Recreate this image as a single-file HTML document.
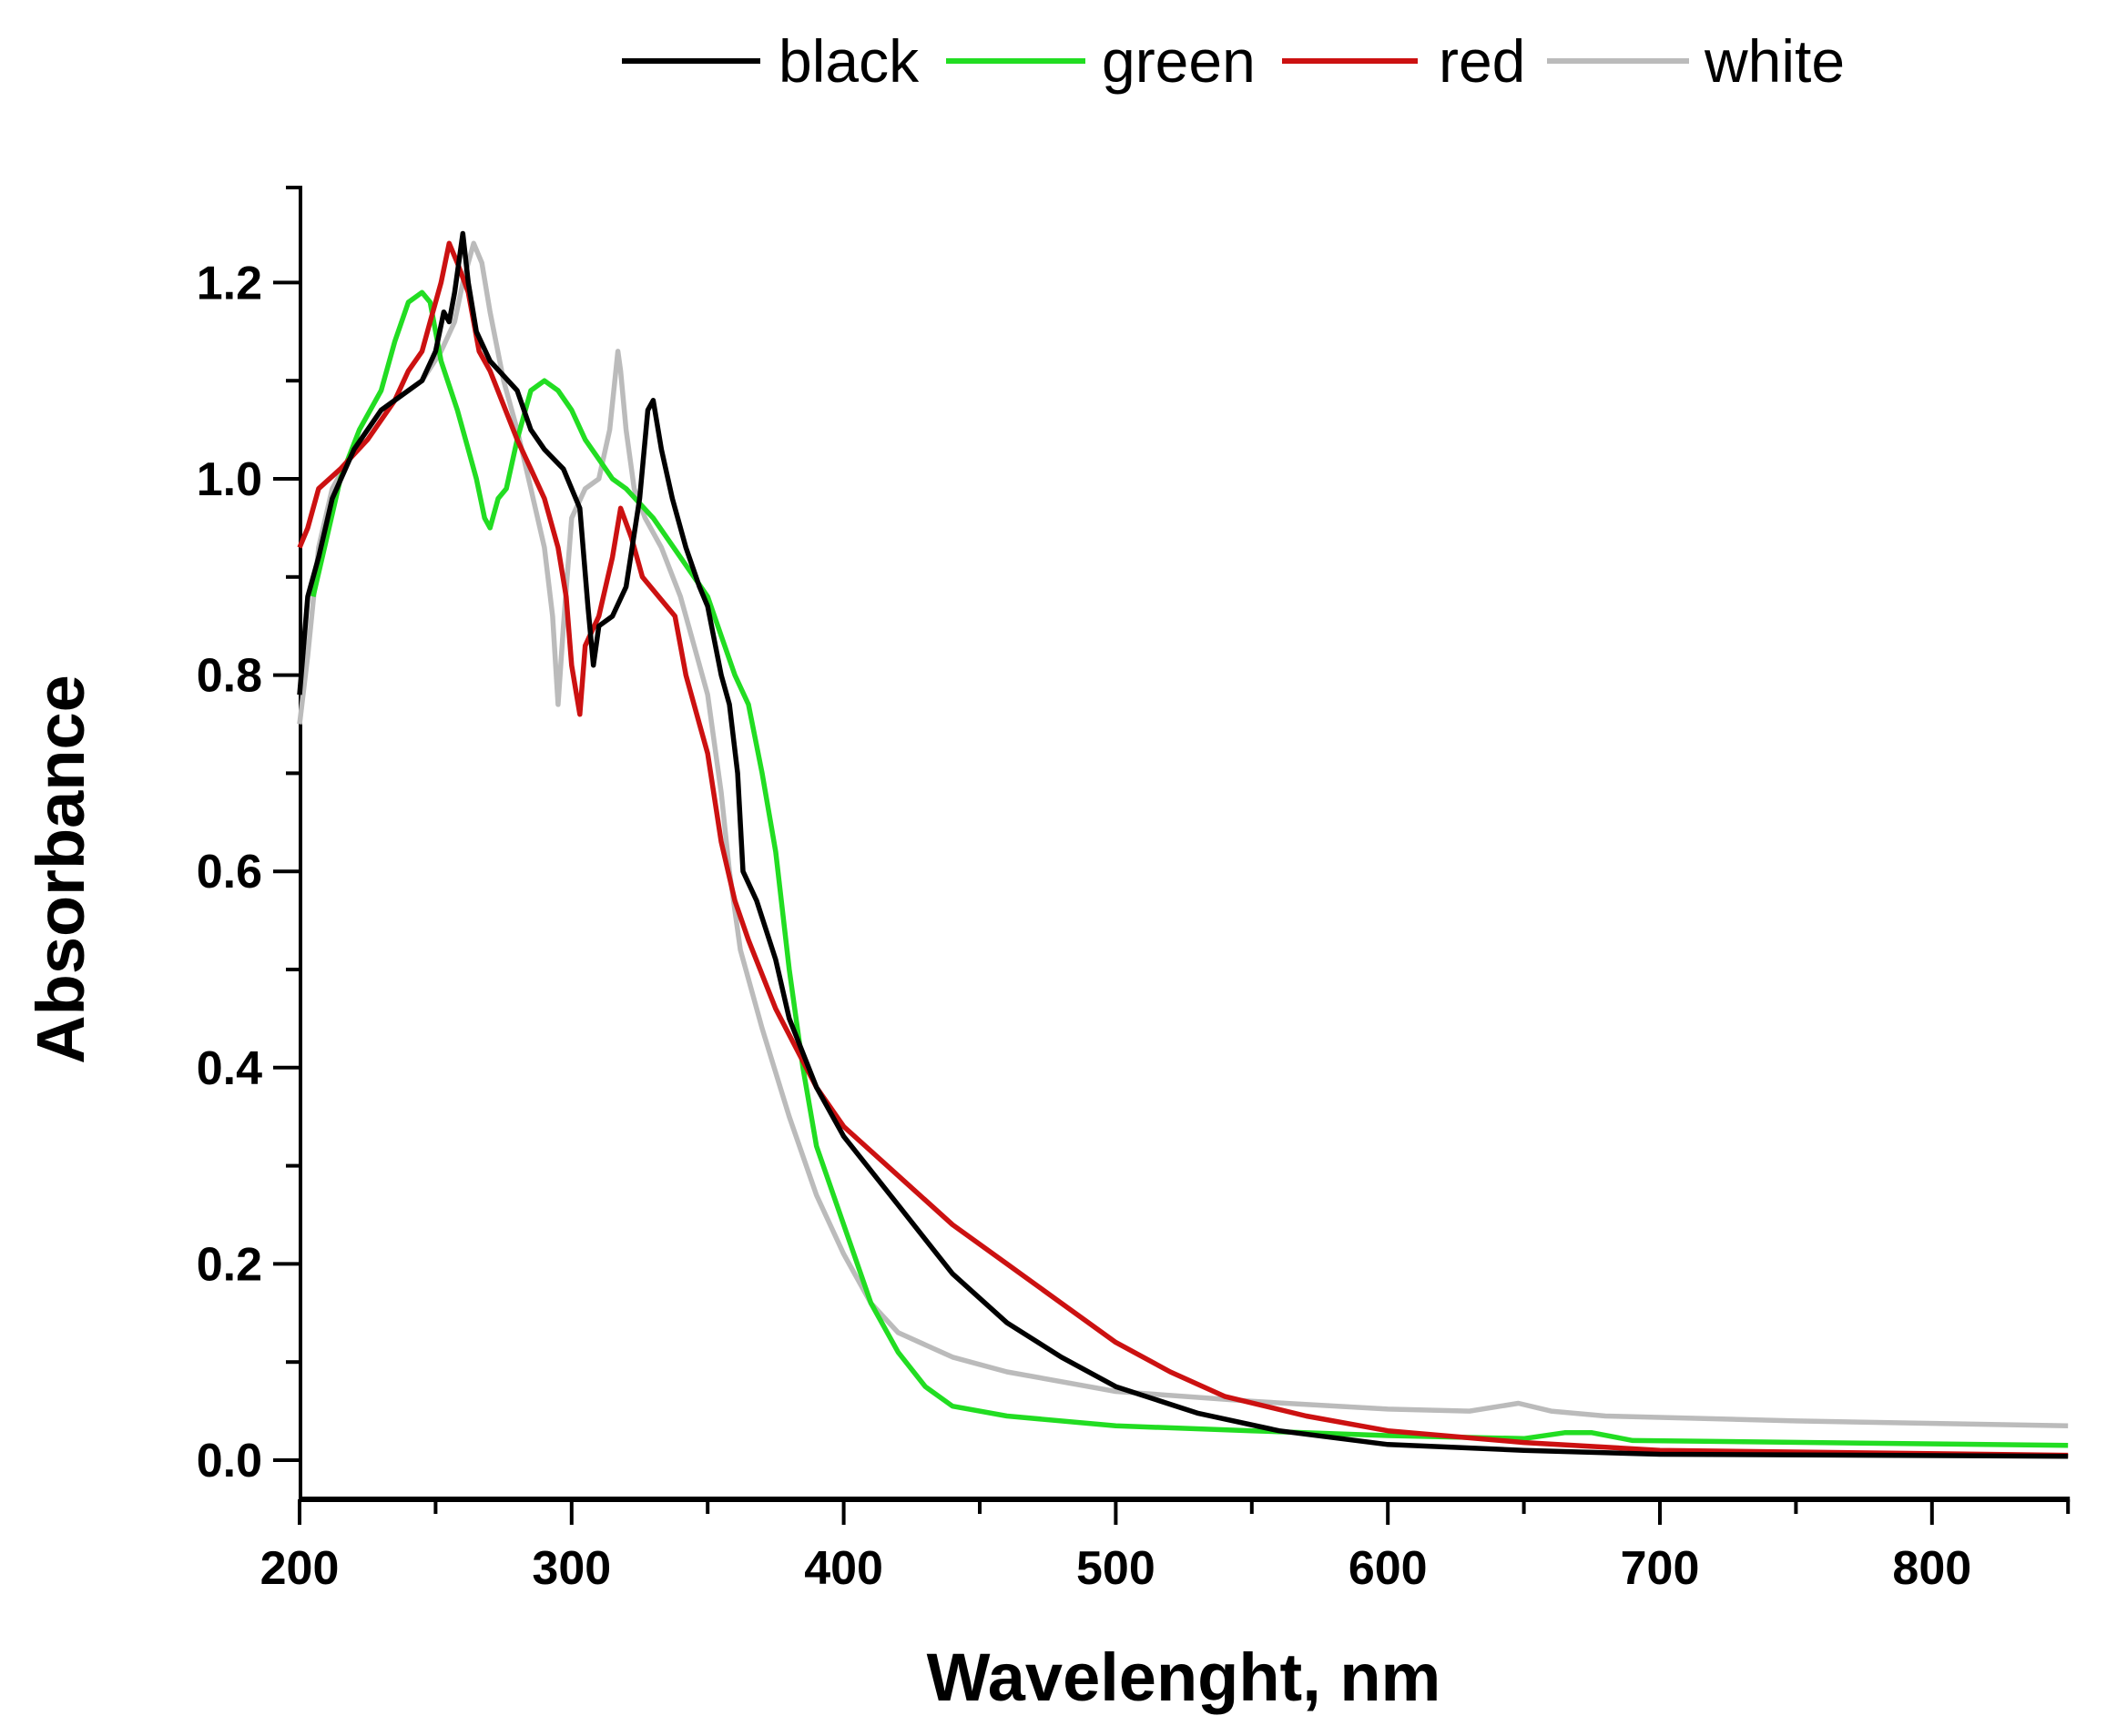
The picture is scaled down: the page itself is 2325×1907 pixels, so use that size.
<!DOCTYPE html>
<html><head><meta charset="utf-8"><style>
html,body{margin:0;padding:0;background:#fff;}
svg{display:block;font-family:"Liberation Sans",Arial,sans-serif;}
</style></head><body>
<svg id="s" width="2325" height="1907" viewBox="0 0 2325 1907" xmlns="http://www.w3.org/2000/svg">
<rect width="2325" height="1907" fill="#fff"/>
<g stroke-width="6" fill="none">
<line x1="683" y1="67" x2="835" y2="67" stroke="#000"/>
<line x1="1039" y1="67" x2="1192" y2="67" stroke="#22dd22"/>
<line x1="1408" y1="67" x2="1557" y2="67" stroke="#cc1111"/>
<line x1="1699" y1="67" x2="1855" y2="67" stroke="#bbbbbb"/>
</g>
<g font-size="66" fill="#000">
<text x="855" y="90">black</text>
<text x="1210" y="90">green</text>
<text x="1580" y="90">red</text>
<text x="1872" y="90">white</text>
</g>
<g id="ax" stroke="#000" stroke-width="4" fill="none"></g>
<g id="lab" font-size="52" font-weight="bold" fill="#000"></g>
<text x="1300" y="1868" font-size="74" font-weight="bold" text-anchor="middle">Wavelenght, nm</text>
<text transform="translate(92,955) rotate(-90)" font-size="74" font-weight="bold" text-anchor="middle">Absorbance</text>
<g id="ser" fill="none" stroke-width="5.5" stroke-linejoin="round"></g>
</svg>
<script>
var NS="http://www.w3.org/2000/svg";
function X(w){return 329+(w-200)*2.988;}
function Y(a){return 1604-a*1078;}
function el(p,t,at,txt){var e=document.createElementNS(NS,t);for(var k in at)e.setAttribute(k,at[k]);if(txt)e.textContent=txt;p.appendChild(e);return e;}
var ax=document.getElementById('ax'),lab=document.getElementById('lab');
el(ax,'line',{x1:330,y1:204,x2:330,y2:1650});
el(ax,'line',{x1:328,y1:1647,x2:X(850)+2,y2:1647,'stroke-width':6});
for(var w=200;w<=850;w+=50){var maj=(w%100==0);el(ax,'line',{x1:X(w),y1:1647,x2:X(w),y2:1647+(maj?28:16)});
 if(maj)el(lab,'text',{x:X(w),y:1740,'text-anchor':'middle'},String(w));}
for(var i=-1;i<=13;i++){var a=i/10;var y=Y(a);if(y<204||y>1650)continue;var maj=(i%2==0);
 el(ax,'line',{x1:330-(maj?30:16),y1:y,x2:330,y2:y});
 if(maj&&i>=0)el(lab,'text',{x:288,y:y+18,'text-anchor':'end'},a.toFixed(1));}
el(ax,'line',{x1:314,y1:206,x2:330,y2:206});
var S={
"#bbbbbb":[[200,0.75],[203,0.82],[207,0.93],[212,0.99],[220,1.03],[230,1.07],[245,1.10],[252,1.13],[257,1.16],[260,1.20],[264,1.24],[267,1.22],[270,1.17],[275,1.10],[280,1.05],[285,0.99],[290,0.93],[293,0.86],[295,0.77],[297,0.85],[300,0.96],[305,0.99],[310,1.00],[314,1.05],[317,1.13],[318,1.11],[320,1.05],[323,0.99],[327,0.96],[333,0.93],[340,0.88],[345,0.83],[350,0.78],[355,0.68],[358,0.60],[362,0.52],[370,0.44],[380,0.35],[390,0.27],[400,0.21],[410,0.16],[420,0.13],[440,0.105],[460,0.09],[500,0.07],[550,0.06],[600,0.052],[630,0.05],[648,0.058],[660,0.05],[680,0.045],[750,0.04],[850,0.035]],
"#22dd22":[[205,0.88],[210,0.94],[215,1.00],[222,1.05],[230,1.09],[235,1.14],[240,1.18],[245,1.19],[248,1.18],[252,1.12],[258,1.07],[262,1.03],[265,1.00],[268,0.96],[270,0.95],[273,0.98],[276,0.99],[280,1.04],[285,1.09],[290,1.10],[295,1.09],[300,1.07],[305,1.04],[310,1.02],[315,1.00],[320,0.99],[330,0.96],[340,0.92],[350,0.88],[355,0.84],[360,0.80],[365,0.77],[370,0.70],[375,0.62],[380,0.50],[385,0.40],[390,0.32],[400,0.24],[410,0.16],[420,0.11],[430,0.075],[440,0.055],[460,0.045],[500,0.035],[550,0.03],[600,0.025],[650,0.022],[665,0.028],[675,0.028],[690,0.02],[850,0.015]],
"#cc1111":[[200,0.93],[203,0.95],[207,0.99],[215,1.01],[225,1.04],[235,1.08],[240,1.11],[245,1.13],[248,1.16],[252,1.20],[255,1.24],[258,1.22],[262,1.19],[266,1.13],[270,1.11],[280,1.04],[285,1.01],[290,0.98],[295,0.93],[298,0.88],[300,0.81],[303,0.76],[305,0.83],[310,0.86],[315,0.92],[318,0.97],[322,0.94],[326,0.90],[332,0.88],[338,0.86],[342,0.80],[347,0.75],[350,0.72],[355,0.63],[360,0.57],[365,0.53],[375,0.46],[390,0.38],[400,0.34],[420,0.29],[440,0.24],[460,0.20],[480,0.16],[500,0.12],[520,0.09],[540,0.065],[570,0.045],[600,0.03],[650,0.018],[700,0.01],[850,0.005]],
"#000000":[[200,0.78],[203,0.88],[207,0.92],[212,0.98],[220,1.03],[230,1.07],[240,1.09],[245,1.10],[250,1.13],[253,1.17],[255,1.16],[257,1.19],[260,1.25],[262,1.20],[265,1.15],[270,1.12],[280,1.09],[285,1.05],[290,1.03],[297,1.01],[300,0.99],[303,0.97],[306,0.87],[308,0.81],[310,0.85],[315,0.86],[320,0.89],[325,0.98],[328,1.07],[330,1.08],[333,1.03],[337,0.98],[342,0.93],[347,0.89],[350,0.87],[355,0.80],[358,0.77],[361,0.70],[363,0.60],[368,0.57],[375,0.51],[380,0.45],[390,0.38],[400,0.33],[420,0.26],[440,0.19],[460,0.14],[480,0.105],[500,0.075],[530,0.048],[560,0.03],[600,0.016],[650,0.01],[700,0.006],[850,0.004]]
};
var ser=document.getElementById('ser');
for(var c in S){var p=S[c].map(function(d){return X(d[0]).toFixed(1)+','+Y(d[1]).toFixed(1);}).join(' ');el(ser,'polyline',{points:p,stroke:c});}
</script>
</body></html>
